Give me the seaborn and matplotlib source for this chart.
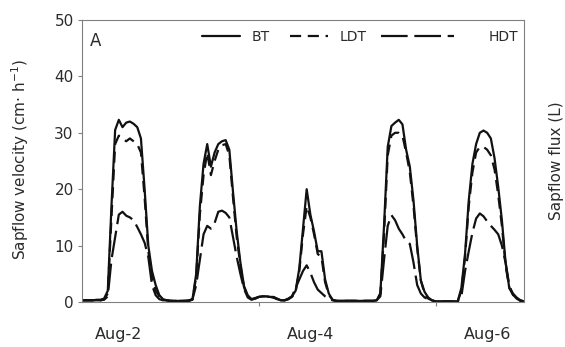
import numpy as np
import pandas as pd
import matplotlib
matplotlib.use("Agg")
import matplotlib.pyplot as plt
import seaborn as sns

# ---- data (hourly readings, Aug-2 00:00 .. Aug-7 00:00) ----
hours = list(range(121))
bt = [0.3, 0.3, 0.3, 0.3, 0.4, 0.4, 0.6, 2.0, 17.0, 30.5, 32.3, 31.0, 31.8, 32.0, 31.6, 31.0, 29.0, 20.0, 10.0, 5.5, 3.0, 1.2, 0.5, 0.3,
      0.2, 0.2, 0.2, 0.2, 0.2, 0.3, 0.5, 5.0, 17.0, 24.5, 28.0, 24.0, 26.5, 28.0, 28.5, 28.7, 27.0, 19.5, 12.5, 7.0, 2.8, 1.2, 0.5, 0.7,
      0.9, 1.0, 1.0, 0.9, 0.9, 0.6, 0.3, 0.3, 0.6, 1.0, 2.0, 6.0, 13.0, 20.0, 15.5, 12.5, 9.0, 9.0, 4.0, 1.5, 0.4, 0.2, 0.2, 0.2,
      0.2, 0.2, 0.2, 0.2, 0.2, 0.2, 0.2, 0.2, 0.3, 1.5, 13.5, 27.5, 31.2, 31.8, 32.3, 31.5, 27.0, 24.0, 18.0, 10.0, 3.8, 1.8, 0.8, 0.3,
      0.1, 0.1, 0.1, 0.1, 0.1, 0.1, 0.1, 2.5, 8.6, 18.0, 24.5, 28.0, 30.0, 30.4, 30.0, 29.0, 25.5, 20.4, 14.5, 7.0, 2.5, 1.5, 0.8, 0.3, 0.1]
ldt = [0.3, 0.3, 0.3, 0.3, 0.3, 0.3, 0.5, 1.5, 15.0, 28.0, 29.5, 29.0, 28.5, 29.0, 28.5, 28.0, 26.5, 18.5, 9.0, 4.5, 2.0, 1.0, 0.5, 0.3,
       0.2, 0.2, 0.2, 0.2, 0.2, 0.2, 0.4, 4.5, 15.5, 22.5, 26.5, 22.5, 25.0, 27.0, 27.8, 28.0, 26.0, 18.5, 11.5, 6.5, 2.6, 1.0, 0.5, 0.6,
       0.9, 1.0, 1.0, 0.9, 0.8, 0.5, 0.3, 0.3, 0.5, 0.9, 1.8, 5.5, 12.0, 17.0, 15.0, 12.0, 8.5, 8.0, 3.5, 1.3, 0.4, 0.2, 0.2, 0.2,
       0.2, 0.2, 0.2, 0.2, 0.2, 0.2, 0.2, 0.2, 0.3, 1.5, 12.0, 26.0, 29.5, 30.0, 30.0, 29.5, 26.5, 23.0, 17.0, 9.5, 3.8, 1.5, 0.6, 0.3,
       0.1, 0.1, 0.1, 0.1, 0.1, 0.1, 0.1, 2.0, 8.0, 17.0, 23.0, 26.5, 27.5, 27.5, 27.0, 26.0, 23.5, 19.0, 13.5, 6.5, 2.5, 1.3, 0.6, 0.3, 0.1]
hdt = [0.3, 0.3, 0.3, 0.3, 0.3, 0.3, 0.4, 1.0, 7.5, 11.5, 15.5, 16.0, 15.3, 15.0, 14.5, 13.3, 12.0, 10.5, 8.0, 3.0, 1.2, 0.5, 0.3, 0.3,
       0.2, 0.2, 0.2, 0.2, 0.2, 0.2, 0.5, 3.0, 7.5, 12.0, 13.5, 13.0, 14.0, 16.0, 16.2, 15.8, 15.0, 11.5, 8.0, 5.0, 2.3, 0.8, 0.4, 0.6,
       0.9, 1.0, 1.0, 0.9, 0.8, 0.5, 0.3, 0.3, 0.5, 1.0, 2.5, 4.0, 5.5, 6.5, 5.2, 3.5, 2.2, 1.6, 1.0, 0.5, 0.3, 0.2, 0.2, 0.2,
       0.2, 0.2, 0.2, 0.2, 0.2, 0.2, 0.2, 0.2, 0.3, 1.0, 7.5, 13.5, 15.4, 14.5, 13.0, 12.0, 10.8, 10.3, 7.0, 3.0, 1.5, 0.8, 0.5, 0.3,
       0.1, 0.1, 0.1, 0.1, 0.1, 0.1, 0.1, 1.0, 5.5, 9.0, 12.3, 14.8, 15.7, 15.2, 14.3, 13.5, 12.8, 12.0, 10.0, 7.0, 3.0, 1.3, 0.6, 0.2, 0.1]
series_names = ["BT", "LDT", "HDT"]
yticks = [0, 10, 20, 30, 40, 50]
xlabel_pos = [10, 62, 110]
xlabel_text = ["Aug-2", "Aug-4", "Aug-6"]
xminor_pos = [48, 96]

# ---- style ----
sns.set_theme(style="white")
plt.rcParams["font.family"] = ["DejaVu Sans"]
ink = "#111111"
txt = "#2b2b2b"
spine = "#808080"

df = pd.DataFrame({
    "hour": hours * 3,
    "flow": bt + ldt + hdt,
    "treatment": ["BT"] * len(bt) + ["LDT"] * len(ldt) + ["HDT"] * len(hdt),
})

fig = plt.figure(figsize=(5.65, 3.47), dpi=100)
fig.patch.set_facecolor("white")
ax = fig.add_axes([82 / 565, 1 - 302 / 347, 442 / 565, 282 / 347])

sns.lineplot(data=df, x="hour", y="flow", style="treatment", style_order=series_names,
             dashes={"BT": "", "LDT": (5, 3), "HDT": (12, 3)},
             color=ink, linewidth=1.6, ax=ax, legend=True)

ax.set_xlim(0, 120)
ax.set_ylim(0, 50)
ax.set_yticks(yticks)
ax.set_xticks(xlabel_pos)
ax.set_xticklabels(xlabel_text)
ax.set_xticks(xminor_pos, minor=True)
ax.tick_params(axis="x", which="major", length=0, pad=18, labelsize=11.5, labelcolor=txt)
ax.tick_params(axis="x", which="minor", bottom=True, length=3, width=0.8, color=spine, direction="out")
ax.tick_params(axis="y", which="major", left=True, length=3, width=0.8, color=spine,
               labelsize=11, labelcolor=txt, pad=3)
for s in ax.spines.values():
    s.set_color(spine)
    s.set_linewidth(0.8)

ax.set_xlabel("")
ax.set_ylabel("Sapflow velocity (cm· h$^{-1}$)", fontsize=11, color=txt)
ax.yaxis.set_label_coords(-0.115, 0.505)

fig.text(557 / 565, 1 - 161 / 347, "Sapflow flux (L)", rotation=90, ha="center", va="center",
         fontsize=11, color=txt)
ax.text(0.018, 0.925, "A", transform=ax.transAxes, ha="left", va="center", fontsize=12, color=txt)

handles, labels = ax.get_legend_handles_labels()
hmap = dict(zip(labels, handles))
leg1 = ax.legend([hmap["BT"], hmap["LDT"]], ["BT", "LDT"], ncol=2, loc="center left",
                 bbox_to_anchor=(0.272, 0.94), frameon=False, handlelength=2.7,
                 handletextpad=0.85, columnspacing=1.5, fontsize=10, borderaxespad=0,
                 borderpad=0, labelcolor=txt)
ax.add_artist(leg1)
ax.legend([hmap["HDT"]], ["HDT"], loc="center right", bbox_to_anchor=(0.988, 0.94),
          frameon=False, handlelength=5.25, handletextpad=2.5, fontsize=10,
          borderaxespad=0, borderpad=0, labelcolor=txt)

fig.savefig("out.png", dpi=100, facecolor="white")
